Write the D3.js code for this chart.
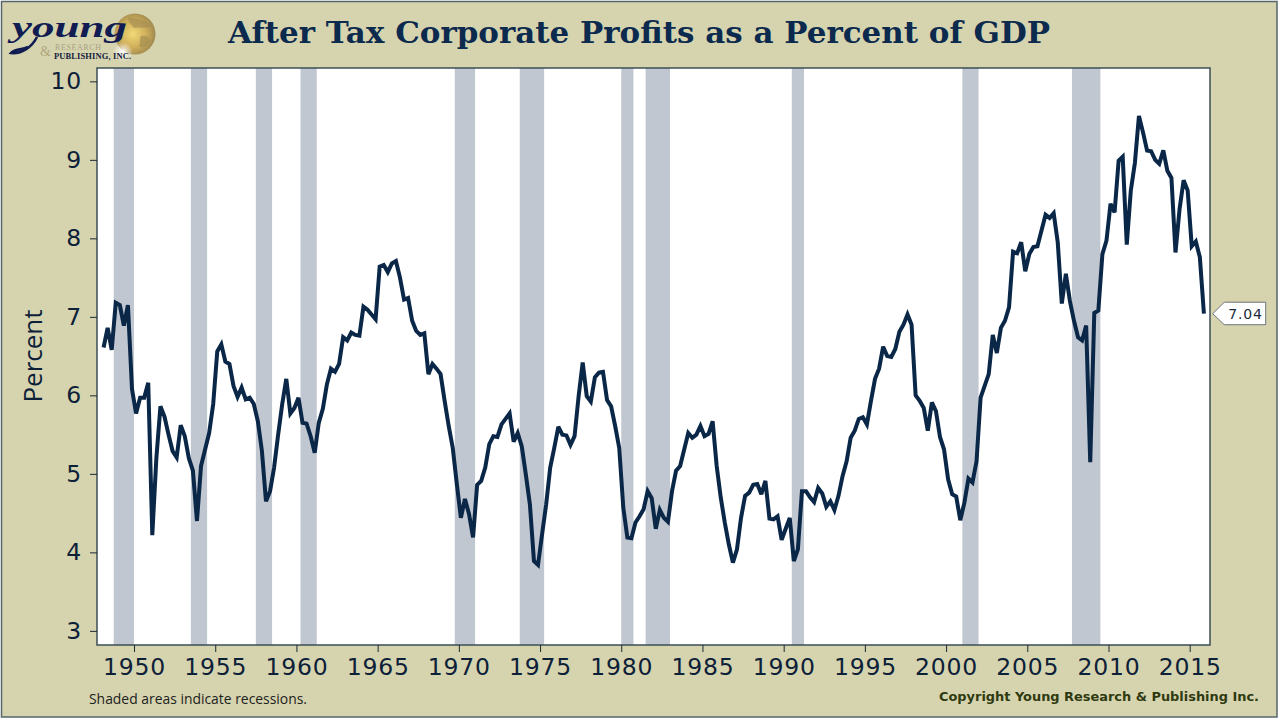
<!DOCTYPE html>
<html>
<head>
<meta charset="utf-8">
<title>After Tax Corporate Profits as a Percent of GDP</title>
<script src="https://cdn.jsdelivr.net/npm/d3@7"></script>
<style>
  html, body { margin: 0; padding: 0; background: #fff; }
  svg { display: block; }
  .axis path { display: none; }
  .axis line { stroke: #1a2a33; stroke-width: 1; }
  .axis text { font-family: "DejaVu Sans", sans-serif; font-size: 23.5px; letter-spacing: 0.8px; fill: #0c2038; }
</style>
</head>
<body>
<svg id="chart" width="1280" height="720"></svg>
<script>
// quarterly values, one row per year, first row is 1948
var profits = [
  6.61, 6.86, 6.58, 7.18,
  7.15, 6.89, 7.15, 6.08,
  5.77, 5.97, 5.97, 6.16,
  4.22, 5.20, 5.86, 5.73,
  5.50, 5.29, 5.21, 5.62,
  5.48, 5.20, 5.04, 4.40,
  5.10, 5.31, 5.52, 5.89,
  6.56, 6.65, 6.43, 6.40,
  6.12, 5.98, 6.10, 5.95,
  5.97, 5.89, 5.67, 5.29,
  4.65, 4.78, 5.08, 5.50,
  5.89, 6.21, 5.77, 5.84,
  5.97, 5.65, 5.64, 5.48,
  5.27, 5.65, 5.83, 6.14,
  6.34, 6.30, 6.40, 6.74,
  6.70, 6.80, 6.77, 6.76,
  7.13, 7.09, 7.03, 6.97,
  7.64, 7.66, 7.57, 7.68,
  7.71, 7.50, 7.22, 7.24,
  6.95, 6.82, 6.77, 6.79,
  6.27, 6.40, 6.34, 6.27,
  5.93, 5.61, 5.33, 4.87,
  4.44, 4.68, 4.49, 4.19,
  4.86, 4.91, 5.08, 5.38,
  5.48, 5.47, 5.63, 5.70,
  5.77, 5.41, 5.52, 5.35,
  4.99, 4.61, 3.89, 3.84,
  4.23, 4.61, 5.08, 5.33,
  5.60, 5.50, 5.49, 5.37,
  5.48, 5.99, 6.42, 5.99,
  5.92, 6.23, 6.29, 6.30,
  5.94, 5.86, 5.61, 5.33,
  4.57, 4.19, 4.18, 4.38,
  4.46, 4.55, 4.78, 4.69,
  4.30, 4.54, 4.44, 4.39,
  4.78, 5.04, 5.10, 5.31,
  5.52, 5.46, 5.50, 5.61,
  5.48, 5.51, 5.67, 5.10,
  4.70, 4.38, 4.10, 3.87,
  4.04, 4.44, 4.72, 4.76,
  4.86, 4.87, 4.74, 4.91,
  4.43, 4.42, 4.46, 4.16,
  4.30, 4.44, 3.89, 4.04,
  4.78, 4.78, 4.70, 4.64,
  4.82, 4.75, 4.58, 4.65,
  4.54, 4.72, 4.97, 5.16,
  5.46, 5.55, 5.70, 5.72,
  5.63, 5.93, 6.21, 6.34,
  6.62, 6.50, 6.49, 6.59,
  6.81, 6.90, 7.03, 6.90,
  6.00, 5.93, 5.84, 5.55,
  5.91, 5.80, 5.47, 5.31,
  4.93, 4.74, 4.71, 4.41,
  4.63, 4.94, 4.89, 5.16,
  5.97, 6.12, 6.27, 6.77,
  6.54, 6.86, 6.95, 7.12,
  7.83, 7.81, 7.95, 7.58,
  7.80, 7.89, 7.90, 8.10,
  8.30, 8.26, 8.32, 7.95,
  7.17, 7.55, 7.20, 6.95,
  6.74, 6.70, 6.89, 5.15,
  7.05, 7.08, 7.80, 7.97,
  8.44, 8.33, 8.99, 9.04,
  7.92, 8.61, 8.96, 9.56,
  9.35, 9.12, 9.11, 9.00,
  8.95, 9.12, 8.86, 8.77,
  7.82, 8.37, 8.74, 8.61,
  7.90, 7.96, 7.76, 7.04
];
var firstYear = 1948;
var recessionStarts = [1948.75, 1953.5, 1957.5, 1960.25, 1969.75, 1973.75, 1980, 1981.5, 1990.5, 2001, 2007.75];
var recessionEnds = [1950, 1954.5, 1958.5, 1961.25, 1971, 1975.25, 1980.75, 1983, 1991.25, 2002, 2009.5];
var yearTicks = [1950, 1955, 1960, 1965, 1970, 1975, 1980, 1985, 1990, 1995, 2000, 2005, 2010, 2015];
var percentTicks = [3, 4, 5, 6, 7, 8, 9, 10];

var svg = d3.select("#chart");
var navy = "#0a2748";
var plot = { left: 97, right: 1210, top: 68, bottom: 645 };

var x = d3.scaleLinear().domain([1947.72, 2016.25]).range([plot.left, plot.right]);
var y = d3.scaleLinear().domain([2.82, 10.17]).range([plot.bottom, plot.top]);

// panel background and frame
svg.append("rect")
  .attr("x", 1.5).attr("y", 1.5).attr("width", 1275.5).attr("height", 715.5)
  .attr("fill", "#d6d4af").attr("stroke", "#56666a").attr("stroke-width", 1.5);

svg.append("rect")
  .attr("x", plot.left).attr("y", plot.top)
  .attr("width", plot.right - plot.left).attr("height", plot.bottom - plot.top)
  .attr("fill", "#fff");

// recession bands
svg.append("g").selectAll("rect")
  .data(recessionStarts)
  .join("rect")
  .attr("x", function(d) { return x(d); })
  .attr("y", plot.top)
  .attr("width", function(d, i) { return x(recessionEnds[i]) - x(d); })
  .attr("height", plot.bottom - plot.top)
  .attr("fill", "#c0c7d1");

svg.append("rect")
  .attr("x", plot.left).attr("y", plot.top)
  .attr("width", plot.right - plot.left).attr("height", plot.bottom - plot.top)
  .attr("fill", "none").attr("stroke", "#3c4d55").attr("stroke-width", 1.5);

// axes
svg.append("g")
  .attr("class", "axis")
  .attr("transform", "translate(0," + plot.bottom + ")")
  .call(d3.axisBottom(x).tickValues(yearTicks).tickFormat(d3.format("d")).tickSize(7).tickPadding(6));

svg.append("g")
  .attr("class", "axis")
  .attr("transform", "translate(" + plot.left + ",0)")
  .call(d3.axisLeft(y).tickValues(percentTicks).tickSize(7).tickPadding(8));

svg.append("text")
  .attr("transform", "translate(42,356) rotate(-90)")
  .attr("text-anchor", "middle")
  .attr("font-family", "'Open Sans', sans-serif")
  .attr("font-size", 26)
  .attr("fill", "#0c2038")
  .text("Percent");

// the series, each quarter sits mid-quarter on the year scale
var line = d3.line()
  .x(function(d, i) { return x(firstYear + 0.125 + i * 0.25); })
  .y(function(d) { return y(d); })
  .curve(d3.curveLinear);

svg.append("path")
  .datum(profits)
  .attr("d", line)
  .attr("fill", "none")
  .attr("stroke", navy)
  .attr("stroke-width", 4)
  .attr("stroke-linejoin", "miter")
  .attr("stroke-miterlimit", 3);

// callout for the last value
var lastValue = profits[profits.length - 1];
var ly = y(lastValue);
svg.append("path")
  .attr("d", "M1212.7," + ly + "L1224.3," + (ly - 11.5) + "H1265.7V" + (ly + 11) + "H1224.3Z")
  .attr("fill", "#fff")
  .attr("stroke", "#6d7478")
  .attr("stroke-width", 1);
svg.append("text")
  .attr("x", 1245.5).attr("y", ly + 5)
  .attr("text-anchor", "middle")
  .attr("font-family", "'DejaVu Sans', sans-serif")
  .attr("font-size", 14)
  .attr("letter-spacing", 0.8)
  .attr("fill", "#1a2a3a")
  .text(lastValue.toFixed(2));

// title and footers
svg.append("text")
  .attr("x", 639).attr("y", 43)
  .attr("text-anchor", "middle")
  .attr("font-family", "'DejaVu Serif', serif")
  .attr("font-weight", "bold")
  .attr("font-size", 29)
  .attr("textLength", 822)
  .attr("lengthAdjust", "spacingAndGlyphs")
  .attr("fill", "#0c2a4e")
  .text("After Tax Corporate Profits as a Percent of GDP");

svg.append("text")
  .attr("x", 89).attr("y", 704)
  .attr("font-family", "'Open Sans', sans-serif")
  .attr("font-size", 13.9)
  .attr("fill", "#1c2220")
  .text("Shaded areas indicate recessions.");

svg.append("text")
  .attr("x", 939).attr("y", 701)
  .attr("font-family", "'DejaVu Sans', sans-serif")
  .attr("font-weight", "bold")
  .attr("font-size", 12)
  .attr("textLength", 320)
  .attr("lengthAdjust", "spacingAndGlyphs")
  .attr("fill", "#2f3a10")
  .text("Copyright Young Research & Publishing Inc.");

// logo, globe first so the wordmark sits on top of it
var defs = svg.append("defs");
var gold = defs.append("radialGradient").attr("id", "globe")
  .attr("cx", "45%").attr("cy", "50%").attr("r", "60%");
gold.append("stop").attr("offset", "0%").attr("stop-color", "#f0d977");
gold.append("stop").attr("offset", "55%").attr("stop-color", "#cfae5a");
gold.append("stop").attr("offset", "100%").attr("stop-color", "#94804e");
var glow = defs.append("radialGradient").attr("id", "glow");
glow.append("stop").attr("offset", "0%").attr("stop-color", "#fff");
glow.append("stop").attr("offset", "100%").attr("stop-color", "#fff").attr("stop-opacity", 0);

svg.append("circle")
  .attr("cx", 135).attr("cy", 34).attr("r", 20.5)
  .attr("fill", "url(#globe)");
svg.append("path")
  .attr("d", "M128,17C136,19 146,19 151,26C146,30 140,26 134,28C131,24 128,22 128,17ZM141,36C146,35 150,37 150,42C147,47 142,49 139,46C141,43 139,40 141,36Z")
  .attr("fill", "#a58f52")
  .attr("opacity", 0.7);
svg.append("circle")
  .attr("cx", 123).attr("cy", 52).attr("r", 10)
  .attr("fill", "url(#glow)");

// tail of the y in the wordmark
svg.append("path")
  .attr("d", "M37,37C32,47 22,54 11,53C14,49 22,50 28,47")
  .attr("fill", "none")
  .attr("stroke", "#101c52")
  .attr("stroke-width", 2.6);

svg.append("text")
  .attr("x", 12).attr("y", 36.5)
  .attr("font-family", "'Liberation Serif', serif")
  .attr("font-style", "italic")
  .attr("font-weight", "bold")
  .attr("font-size", 30)
  .attr("textLength", 115)
  .attr("lengthAdjust", "spacingAndGlyphs")
  .attr("fill", "#101c52")
  .text("young");

svg.append("text")
  .attr("x", 40).attr("y", 56)
  .attr("font-family", "'Liberation Serif', serif")
  .attr("font-size", 14)
  .attr("fill", "#b0a67e")
  .text("&");

svg.append("text")
  .attr("x", 55).attr("y", 49.5)
  .attr("font-family", "'Liberation Serif', serif")
  .attr("font-size", 8)
  .attr("textLength", 46)
  .attr("fill", "#aaa283")
  .text("RESEARCH");

svg.append("text")
  .attr("x", 54).attr("y", 59)
  .attr("font-family", "'Liberation Serif', serif")
  .attr("font-weight", "bold")
  .attr("font-size", 8.5)
  .attr("textLength", 77)
  .attr("fill", "#141c3c")
  .text("PUBLISHING, INC.");
</script>
</body>
</html>
